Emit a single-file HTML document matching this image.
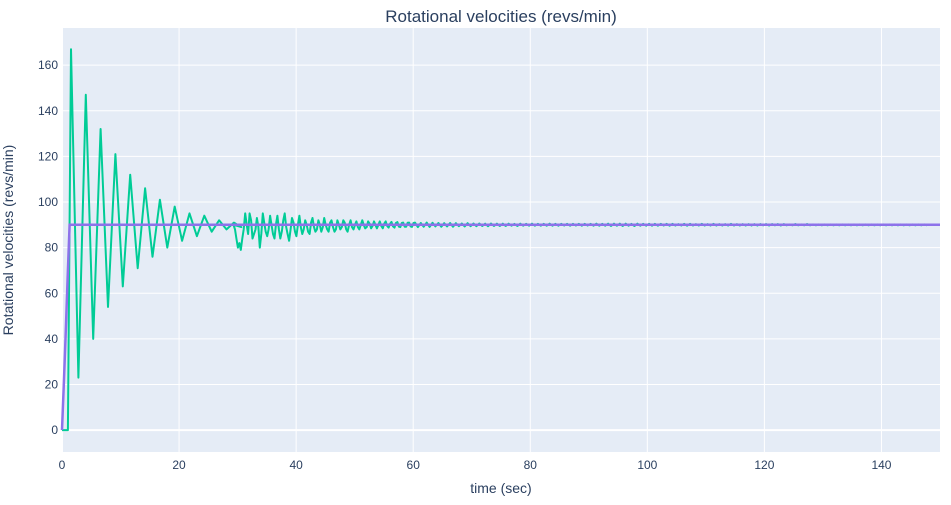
<!DOCTYPE html>
<html><head><meta charset="utf-8">
<style>
html,body{margin:0;padding:0;background:#fff;}
svg{display:block;font-family:"Liberation Sans",Arial,sans-serif;}
</style></head>
<body>
<svg id="chart" width="951" height="505" viewBox="0 0 951 505">
<rect x="0" y="0" width="951" height="505" fill="#fff"/>
<rect id="plotbg" x="62" y="28" width="878" height="424" fill="#e5ecf6"/>
<g id="grid"></g>
<g id="series"></g>
<g id="axes"></g>
<text x="501" y="22" text-anchor="middle" font-size="17" fill="#2a3f5f">Rotational velocities (revs/min)</text>
<text x="501" y="493" text-anchor="middle" font-size="14" fill="#2a3f5f">time (sec)</text>
<text x="0" y="0" transform="translate(13,240) rotate(-90)" text-anchor="middle" font-size="14" fill="#2a3f5f">Rotational velocities (revs/min)</text>
</svg>
<script>
const xTicks = [0,20,40,60,80,100,120,140];
const yTicks = [0,20,40,60,80,100,120,140,160];
// green: initial + alternating extrema (t0=1.54, step 1.265 s)
const greenStart = [[0,0],[1.0,0]];
const extremaVals = [167,23,147,40,132,54,121,63,112,71,106,76,101,80,98,83,95,85,94,87,92,88,91,89];
// noisy segment from t=29.3, step 0.25
const noisyVals = [90,88,84,80,82,79,84,88,95,90,86,95,92,84,86,88,93,89,80,86,95,91,87,85,88,94,90,86,84,90,94,88,84,87,92,95,89,86,83,88,93,91,87,85,90,94,89,86,88,92,90,87,86,91,93,89,87,88,92,90,87,89,93,90,88,87,91,92,89,87,88,92,90,88,89,92,91,88,87,90,92,89,88,90,91.5,89,88,90,92,90,88.5,89,91.5,90.5,88.5,89.5,91.5,90,88.5,90,91.5,89.5,88.5,90.5,91.5,89.5,88.8,90.5,91.3,89.3,88.8,90.8,91.2,89.2,89,90.8,91,89.2,89.2,90.9,91,89.3,89.1,90.8];
// tail from t=60.3, step 0.5
const tailVals = [91,89,90.8,89.2,91,89.1,90.9,89.3,90.8,89.2,90.7,89.3,90.8,89.2,90.7,89.4,90.6,89.3,90.7,89.4,90.6,89.4,90.6,89.5,90.5,89.4,90.6,89.5,90.5,89.5,90.5,89.5,90.5,89.6,90.4,89.5,90.5,89.6,90.4,89.6,90.5,89.6,90.4,89.6,90.4,89.6,90.5,89.6,90.4,89.6,90.4,89.7,90.4,89.6,90.4,89.7,90.4,89.6,90.4,89.7,90.4,89.6,90.5,89.6,90.4,89.6,90.5,89.5,90.5,89.6,90.5,89.5,90.5,89.6,90.4,89.5,90.5,89.6,90.4,89.6,90.4,89.6,90.4,89.6,90.4,89.7,90.4,89.6,90.4,89.7,90.3,89.7,90.4,89.6,90.4,89.7,90.3,89.7,90.4,89.7,90.3,89.7,90.4,89.7,90.3,89.7,90.3,89.7,90.4,89.7,90.3,89.7,90.3,89.7,90.3,89.7,90.3,89.7,90.3,89.8,90.3,89.7,90.3,89.8,90.3,89.7,90.3,89.8,90.2,89.8,90.3,89.8,90.2,89.8,90.3,89.8,90.2,89.8,90.2,89.8,90.2,89.8,90.2,89.8,90.2,89.8,90.2,89.8,90.2,89.8,90.2,89.8,90.2,89.8,90.2,89.8,90.2,89.8,90.2,89.8,90.2,89.8,90.2,89.8,90.2,89.8,90.2,89.8,90.2,89.8,90.2,89.8,90.2,89.8,90.2,89.8];
// purple setpoint line
const purpleT = [0,0.3,0.6,1.0,1.3,150];
const purpleV = [0,20,40,70,90,90];

const X0=62, X1=940, Y0=452, Y1=28, XMIN=0, XMAX=150, YMIN=-9.6, YMAX=176.3;
const sx = t => X0 + (t-XMIN)/(XMAX-XMIN)*(X1-X0);
const sy = v => Y0 - (v-YMIN)/(YMAX-YMIN)*(Y0-Y1);
const NS="http://www.w3.org/2000/svg";
const grid=document.getElementById('grid'), axes=document.getElementById('axes'), series=document.getElementById('series');

xTicks.forEach(t=>{
  const l=document.createElementNS(NS,'line');
  l.setAttribute('x1',sx(t));l.setAttribute('x2',sx(t));l.setAttribute('y1',Y1);l.setAttribute('y2',Y0);
  l.setAttribute('stroke','#fff');l.setAttribute('stroke-width',t===0?2:1);
  
  
  grid.appendChild(l);
  const tx=document.createElementNS(NS,'text');
  tx.setAttribute('x',sx(t));tx.setAttribute('y',Y0+17);tx.setAttribute('text-anchor','middle');
  tx.setAttribute('font-size','12');tx.setAttribute('fill','#2a3f5f');tx.textContent=t;
  
  
  axes.appendChild(tx);
});
yTicks.forEach(v=>{
  const l=document.createElementNS(NS,'line');
  l.setAttribute('x1',X0);l.setAttribute('x2',X1);l.setAttribute('y1',sy(v));l.setAttribute('y2',sy(v));
  l.setAttribute('stroke','#fff');l.setAttribute('stroke-width',v===0?2:1);
  
  
  grid.appendChild(l);
  const tx=document.createElementNS(NS,'text');
  tx.setAttribute('x',X0-4);tx.setAttribute('y',sy(v)+4);tx.setAttribute('text-anchor','end');
  tx.setAttribute('font-size','12');tx.setAttribute('fill','#2a3f5f');tx.textContent=v;
  
  
  axes.appendChild(tx);
});

const gPts=[];
greenStart.forEach(p=>gPts.push(p));
extremaVals.forEach((v,i)=>gPts.push([1.54+i*1.265,v]));
noisyVals.forEach((v,i)=>gPts.push([29.3+i*0.25,v]));
tailVals.forEach((v,i)=>gPts.push([60.3+i*0.5,v]));
const gPath=document.createElementNS(NS,'path');
gPath.setAttribute('d',gPts.filter(p=>p[0]<=150).map((p,i)=>(i?'L':'M')+sx(p[0]).toFixed(1)+','+sy(p[1]).toFixed(1)).join(''));
gPath.setAttribute('fill','none');gPath.setAttribute('stroke','#00cc96');gPath.setAttribute('stroke-width','2');
gPath.setAttribute('stroke-linejoin','round');


series.appendChild(gPath);

const pPath=document.createElementNS(NS,'path');
pPath.setAttribute('d',purpleT.map((t,i)=>(i?'L':'M')+sx(t).toFixed(1)+','+sy(purpleV[i]).toFixed(1)).join(''));
pPath.setAttribute('fill','none');pPath.setAttribute('stroke','#8d72ea');pPath.setAttribute('stroke-width','2.5');


series.appendChild(pPath);
</script>
</body></html>
